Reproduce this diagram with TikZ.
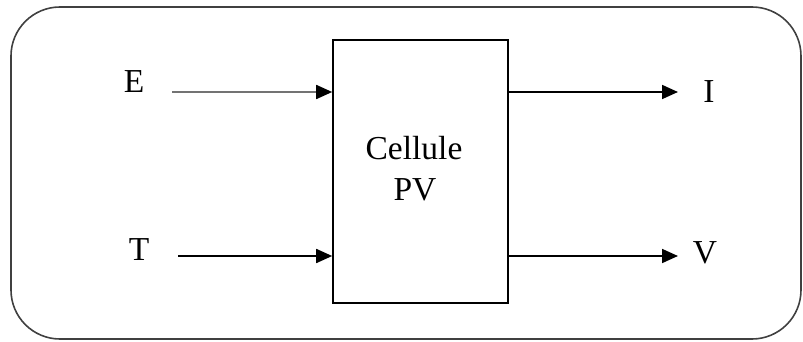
\documentclass[tikz,border=0pt]{standalone}
\usepackage{fontspec}
\setmainfont{Liberation Serif}
\usetikzlibrary{arrows.meta}
\begin{document}
\begin{tikzpicture}[x=1pt,y=-1pt,
  lbl/.style={font=\fontsize{33.5}{40}\selectfont, inner sep=0pt, anchor=base},
  conn/.style={line width=1.8pt, -{Triangle[length=16pt,width=14pt]}},
  blk/.style={draw, line width=1.6pt, minimum width=175pt, minimum height=263pt, inner sep=0pt}]
\useasboundingbox (0,0) rectangle (803,342);
\draw[line width=1.6pt, draw=black!75, rounded corners=49pt] (11,7) rectangle (801,339);
\node[blk] (cell) at (420.5,171.5) {};
\node[lbl] (txt1) at (414,160) {Cellule};
\node[lbl] (txt2) at (415,200) {PV};
\node[lbl] (E) at (134,93) {E};
\node[lbl] (T) at (139,260) {T};
\node[lbl] (I) at (709,103) {I};
\node[lbl] (V) at (705,263) {V};
\coordinate (es) at (172,92);
\coordinate (ts) at (178,256);
\coordinate (ie) at (678,92);
\coordinate (ve) at (678,256);
\draw[conn, draw=black!55, -{Triangle[length=16pt,width=14pt,fill=black,color=black]}] (es) -- (es -| cell.west);
\draw[conn] (ts) -- (ts -| cell.west);
\draw[conn] (ie -| cell.east) -- (ie);
\draw[conn] (ve -| cell.east) -- (ve);
\end{tikzpicture}
\end{document}
